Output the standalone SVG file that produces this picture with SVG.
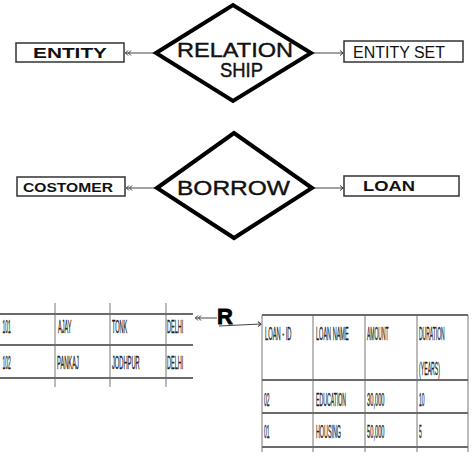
<svg xmlns="http://www.w3.org/2000/svg" width="474" height="474" viewBox="0 0 474 474">
<style>
.box{fill:#fff;stroke:#333;stroke-width:1.5}
.dia{fill:#fff;stroke:#000;stroke-width:4;stroke-linejoin:miter}
.lbl{font-family:"Liberation Sans",Arial,sans-serif;fill:#111}
.b{font-weight:bold}
.m{stroke:#111;stroke-width:0.4}
.con{stroke:#444;stroke-width:1;fill:none}
.tl{stroke:#6a6a6a;stroke-width:2}
.tv{stroke:#777;stroke-width:1}
.tt{font-family:"Liberation Sans",Arial,sans-serif;font-size:18.5px;fill:#222;stroke:#222;stroke-width:0.3}
</style>
<defs>
<marker id="dbl" viewBox="0 0 8 6" refX="0" refY="3" markerWidth="8" markerHeight="6" markerUnits="userSpaceOnUse" orient="auto">
<path d="M3,0.5 L0.5,3 L3,5.5 M6,0.5 L3.5,3 L6,5.5" fill="none" stroke="#333" stroke-width="1"/>
</marker>
<marker id="arr" viewBox="0 0 4 6" refX="3.5" refY="3" markerWidth="4" markerHeight="6" markerUnits="userSpaceOnUse" orient="auto">
<path d="M0.5,0.5 L3.5,3 L0.5,5.5" fill="none" stroke="#333" stroke-width="1"/>
</marker>
</defs>
<rect width="474" height="474" fill="#fff"/>

<g id="connectors">
<line class="con" x1="125" y1="53" x2="156" y2="53" marker-start="url(#dbl)"/>
<line class="con" x1="311" y1="53" x2="343" y2="53" marker-end="url(#arr)"/>
<line class="con" x1="126" y1="188" x2="157" y2="188" marker-start="url(#dbl)"/>
<line class="con" x1="312" y1="188" x2="343" y2="188" marker-end="url(#arr)"/>
<line class="con" x1="195" y1="318" x2="217" y2="318" marker-start="url(#dbl)"/>
<line class="con" x1="219" y1="326" x2="261" y2="324" stroke-width="1.5" marker-end="url(#arr)"/>
</g>

<g id="entity">
<rect class="box" x="16" y="43" width="108" height="19"/>
<text class="lbl b" x="33" y="57.5" font-size="15" textLength="74" lengthAdjust="spacingAndGlyphs">ENTITY</text>
</g>
<g id="relationship">
<polygon class="dia" points="156,53 233,5 311,53 233,101"/>
<text class="lbl m" x="177" y="57" font-size="20" textLength="116" lengthAdjust="spacingAndGlyphs">RELATION</text>
<text class="lbl m" x="220" y="77" font-size="20" textLength="43" lengthAdjust="spacingAndGlyphs">SHIP</text>
</g>
<g id="entity-set">
<rect class="box" x="344" y="41" width="119" height="21"/>
<text class="lbl" x="353" y="58" font-size="16" textLength="92" lengthAdjust="spacingAndGlyphs">ENTITY SET</text>
</g>

<g id="costomer">
<rect class="box" x="17" y="177" width="108" height="19"/>
<text class="lbl b" x="23" y="192" font-size="13" textLength="90" lengthAdjust="spacingAndGlyphs">COSTOMER</text>
</g>
<g id="borrow">
<polygon class="dia" points="157,188 234,133 312,188 234,238"/>
<text class="lbl m" x="177" y="195" font-size="21" textLength="113" lengthAdjust="spacingAndGlyphs">BORROW</text>
</g>
<g id="loan">
<rect class="box" x="344" y="176" width="115" height="20"/>
<text class="lbl b" x="363" y="190.5" font-size="15" textLength="52" lengthAdjust="spacingAndGlyphs">LOAN</text>
</g>

<g id="customer-table">
<line class="tv" x1="55" y1="303" x2="55" y2="387"/>
<line class="tv" x1="110" y1="303" x2="110" y2="387"/>
<line class="tv" x1="166" y1="303" x2="166" y2="387"/>
<line class="tl" x1="0" y1="314" x2="193" y2="314"/>
<line class="tl" x1="0" y1="345" x2="193" y2="345"/>
<line class="tl" x1="0" y1="378" x2="193" y2="378"/>
<text class="tt" transform="translate(2.5,333) scale(0.27,1)">101</text>
<text class="tt" transform="translate(58,333) scale(0.3,1)">AJAY</text>
<text class="tt" transform="translate(112,333) scale(0.3,1)">TONK</text>
<text class="tt" transform="translate(167,333) scale(0.3,1)">DELHI</text>
<text class="tt" transform="translate(2.5,369) scale(0.27,1)">102</text>
<text class="tt" transform="translate(57,369) scale(0.31,1)">PANKAJ</text>
<text class="tt" transform="translate(112,369) scale(0.31,1)">JODHPUR</text>
<text class="tt" transform="translate(167,369) scale(0.3,1)">DELHI</text>
</g>

<g id="r">
<text x="217" y="324" font-family="'Liberation Sans',Arial,sans-serif" font-weight="bold" font-size="22" fill="#000" stroke="#000" stroke-width="0.8">R</text>
</g>

<g id="loan-table">
<line class="tv" x1="262" y1="315" x2="262" y2="452"/>
<line class="tv" x1="313" y1="315" x2="313" y2="452"/>
<line class="tv" x1="365" y1="315" x2="365" y2="452"/>
<line class="tv" x1="417" y1="315" x2="417" y2="452"/>
<line class="tv" x1="468" y1="315" x2="468" y2="452"/>
<line class="tl" x1="262" y1="315" x2="468" y2="315"/>
<line class="tl" x1="262" y1="380" x2="468" y2="380"/>
<line class="tl" x1="262" y1="413" x2="468" y2="413"/>
<line class="tl" x1="262" y1="447" x2="468" y2="447"/>
<text class="tt" transform="translate(265,340) scale(0.31,1)">LOAN - ID</text>
<text class="tt" transform="translate(316,340) scale(0.3,1)">LOAN NAME</text>
<text class="tt" transform="translate(367,340) scale(0.27,1)">AMOUNT</text>
<text class="tt" transform="translate(419,340) scale(0.27,1)">DURATION</text>
<text class="tt" transform="translate(419,375) scale(0.28,1)">(YEARS)</text>
<text class="tt" transform="translate(264,406) scale(0.27,1)">02</text>
<text class="tt" transform="translate(316,406) scale(0.28,1)">EDUCATION</text>
<text class="tt" transform="translate(367,406) scale(0.31,1)">30,000</text>
<text class="tt" transform="translate(419,406) scale(0.27,1)">10</text>
<text class="tt" transform="translate(264,438) scale(0.27,1)">01</text>
<text class="tt" transform="translate(316,438) scale(0.29,1)">HOUSING</text>
<text class="tt" transform="translate(367,438) scale(0.31,1)">50,000</text>
<text class="tt" transform="translate(419,438) scale(0.27,1)">5</text>
</g>
</svg>
